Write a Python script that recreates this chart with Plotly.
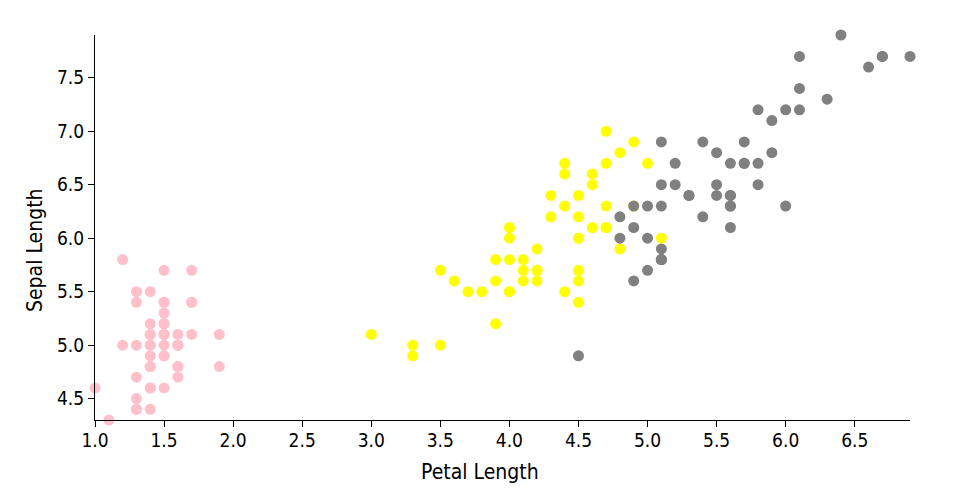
import plotly.graph_objects as go

setosa_petal = [1.4,1.4,1.3,1.5,1.4,1.7,1.4,1.5,1.4,1.5,1.5,1.6,1.4,1.1,1.2,1.5,1.3,1.4,1.7,1.5,1.7,1.5,1.0,1.7,1.9,1.6,1.6,1.5,1.4,1.6,1.6,1.5,1.5,1.4,1.5,1.2,1.3,1.4,1.3,1.5,1.3,1.3,1.3,1.6,1.9,1.4,1.6,1.4,1.5,1.4]
setosa_sepal = [5.1,4.9,4.7,4.6,5.0,5.4,4.6,5.0,4.4,4.9,5.4,4.8,4.8,4.3,5.8,5.7,5.4,5.1,5.7,5.1,5.4,5.1,4.6,5.1,4.8,5.0,5.0,5.2,5.2,4.7,4.8,5.4,5.2,5.5,4.9,5.0,5.5,4.9,4.4,5.1,5.0,4.5,4.4,5.0,5.1,4.8,5.1,4.6,5.3,5.0]

versicolor_petal = [4.7,4.5,4.9,4.0,4.6,4.5,4.7,3.3,4.6,3.9,3.5,4.2,4.0,4.7,3.6,4.4,4.5,4.1,4.5,3.9,4.8,4.0,4.9,4.7,4.3,4.4,4.8,5.0,4.5,3.5,3.8,3.7,3.9,5.1,4.5,4.5,4.7,4.4,4.1,4.0,4.4,4.6,4.0,3.3,4.2,4.2,4.2,4.3,3.0,4.1]
versicolor_sepal = [7.0,6.4,6.9,5.5,6.5,5.7,6.3,4.9,6.6,5.2,5.0,5.9,6.0,6.1,5.6,6.7,5.6,5.8,6.2,5.6,5.9,6.1,6.3,6.1,6.4,6.6,6.8,6.7,6.0,5.7,5.5,5.5,5.8,6.0,5.4,6.0,6.7,6.3,5.6,5.5,5.5,6.1,5.8,5.0,5.6,5.7,5.7,6.2,5.1,5.7]

virginica_petal = [6.0,5.1,5.9,5.6,5.8,6.6,4.5,6.3,5.8,6.1,5.1,5.3,5.5,5.0,5.1,5.3,5.5,6.7,6.9,5.0,5.7,4.9,6.7,4.9,5.7,6.0,4.8,4.9,5.6,5.8,6.1,6.4,5.6,5.1,5.6,6.1,5.6,5.5,4.8,5.4,5.6,5.1,5.1,5.9,5.7,5.2,5.0,5.2,5.4,5.1]
virginica_sepal = [6.3,5.8,7.1,6.3,6.5,7.6,4.9,7.3,6.7,7.2,6.5,6.4,6.8,5.7,5.8,6.4,6.5,7.7,7.7,6.0,6.9,5.6,7.7,6.3,6.7,7.2,6.2,6.1,6.4,7.2,7.4,7.9,6.4,6.3,6.1,7.7,6.3,6.4,6.0,6.9,6.7,6.9,5.8,6.8,6.7,6.7,6.3,6.5,6.2,5.9]

x_ticks = [1.0,1.5,2.0,2.5,3.0,3.5,4.0,4.5,5.0,5.5,6.0,6.5]
y_ticks = [4.5,5.0,5.5,6.0,6.5,7.0,7.5]

FONT = "DejaVu Sans Condensed, sans-serif"

all_x = setosa_petal + versicolor_petal + virginica_petal
all_y = setosa_sepal + versicolor_sepal + virginica_sepal
xmin, xmax = min(all_x), max(all_x)
ymin, ymax = min(all_y), max(all_y)

fig = go.Figure()
for xs, ys, col, name in [
    (setosa_petal, setosa_sepal, "pink", "setosa"),
    (versicolor_petal, versicolor_sepal, "yellow", "versicolor"),
    (virginica_petal, virginica_sepal, "gray", "virginica"),
]:
    fig.add_trace(go.Scatter(
        x=xs, y=ys, mode="markers", name=name, cliponaxis=False,
        marker=dict(color=col, size=11, line=dict(width=0)),
        hoverinfo="x+y",
    ))

axis_common = dict(
    showgrid=False, zeroline=False, showline=True, linecolor="black", linewidth=1,
    ticks="outside", ticklen=6, tickcolor="black", tickwidth=1,
    tickformat=".1f", tickfont=dict(family=FONT, size=19, color="black"),
)
fig.update_xaxes(range=[xmin, xmax], tickvals=x_ticks, ticklabelstandoff=-3, **axis_common)
fig.update_yaxes(range=[ymin, ymax], tickvals=y_ticks, **axis_common)

# outer ticks at axis ends (d3 style)
fig.add_shape(type="line", xref="x", yref="y", x0=xmax, x1=xmax, ysizemode="pixel",
              yanchor=ymin, y0=0, y1=-6, line=dict(color="black", width=1))
fig.add_shape(type="line", xref="x", yref="y", y0=ymax, y1=ymax, xsizemode="pixel",
              xanchor=xmin, x0=0, x1=-6, line=dict(color="black", width=1))
fig.add_shape(type="line", xref="x", yref="y", y0=ymin, y1=ymin, xsizemode="pixel",
              xanchor=xmin, x0=0, x1=-6, line=dict(color="black", width=1))

fig.add_annotation(text="Petal Length", xref="paper", yref="paper",
                   x=(480 - 95) / 815, y=(420 - 472) / 385, xanchor="center", yanchor="middle",
                   showarrow=False, font=dict(family=FONT, size=21, color="black"))
fig.add_annotation(text="Sepal Length", xref="paper", yref="paper", textangle=-90,
                   x=(35 - 95) / 815, y=(420 - 250) / 385, xanchor="center", yanchor="middle",
                   showarrow=False, font=dict(family=FONT, size=21, color="black"))

# page body has an 8px margin; compensate so the plot area sits at x 95-910, y 35-420
fig.update_layout(
    width=960, height=500, showlegend=False,
    plot_bgcolor="white", paper_bgcolor="white",
    margin=dict(l=87, r=58, t=27, b=88),
)
fig.write_html("out.html")
